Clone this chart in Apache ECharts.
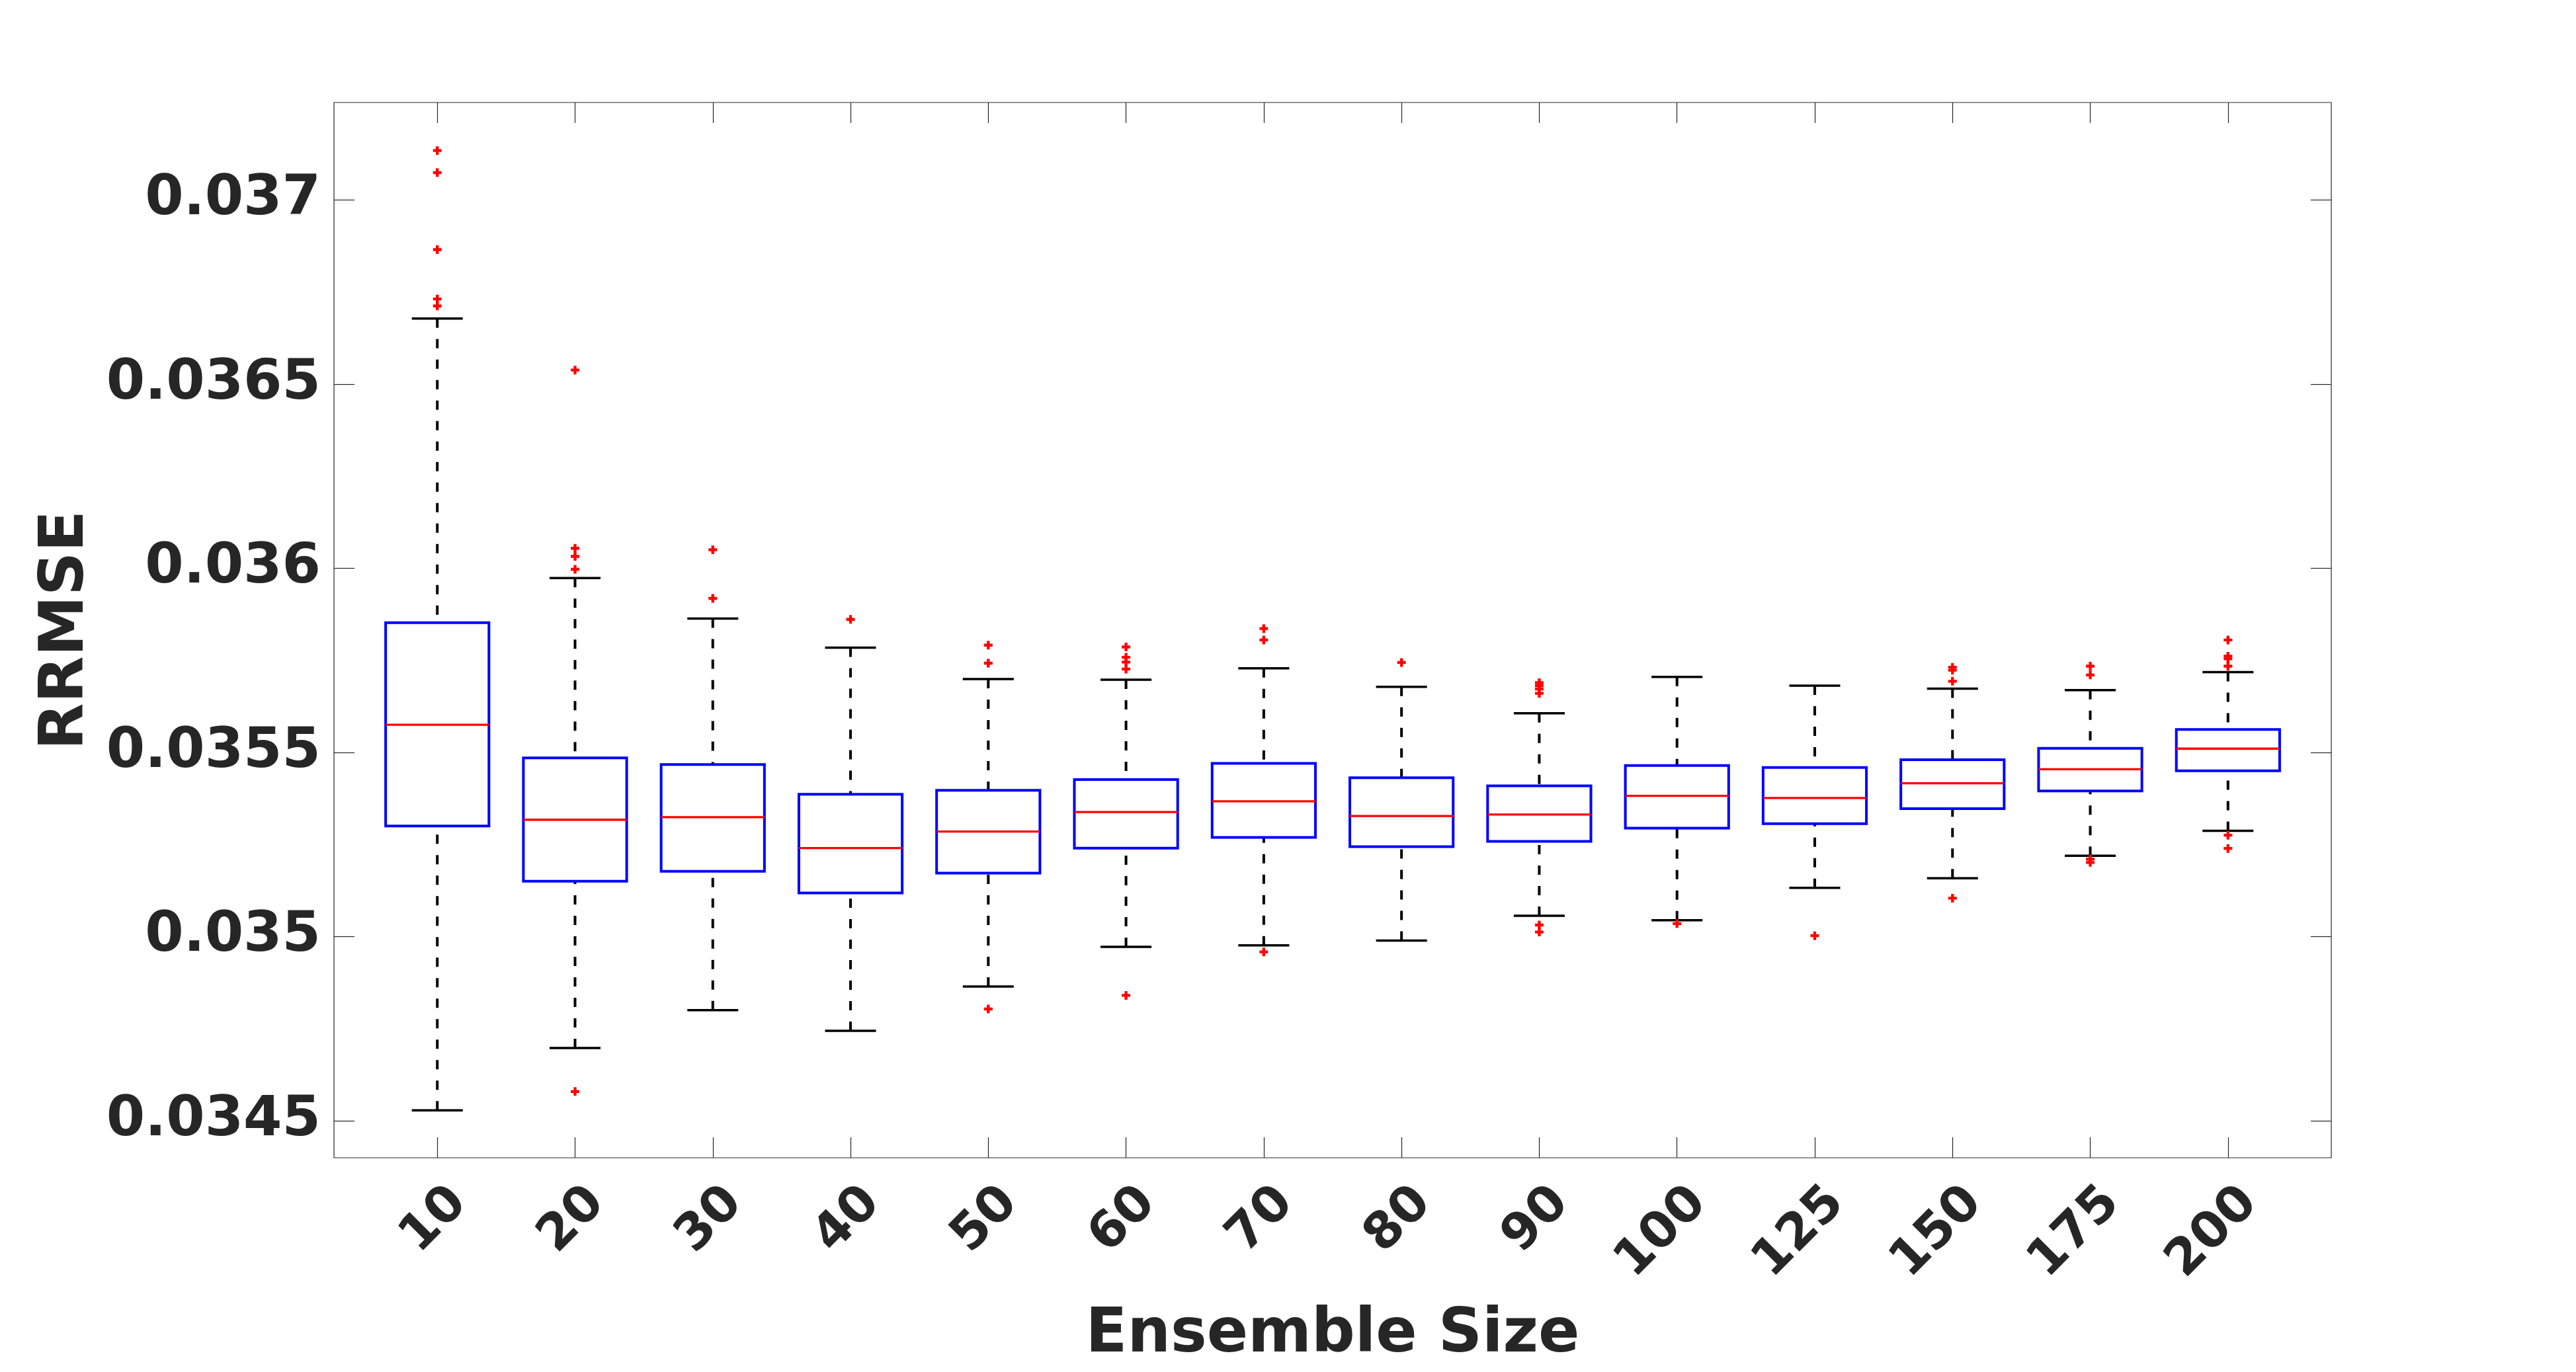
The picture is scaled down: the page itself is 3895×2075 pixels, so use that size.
<!DOCTYPE html>
<html>
<head>
<meta charset="utf-8">
<script src="https://cdn.jsdelivr.net/npm/echarts@6/dist/echarts.min.js"></script>
<style>
  html, body { margin: 0; padding: 0; background: #ffffff; }
  #chart { width: 3895px; height: 2075px; }
</style>
</head>
<body>
<div id="chart"></div>
<script>
// ---- Data ----
const categories = ['10','20','30','40','50','60','70','80','90','100','125','150','175','200'];
const lowerWhisker  = [0.034528,0.034697,0.034800,0.034744,0.034864,0.034972,0.034976,0.034989,0.035056,0.035044,0.035132,0.035158,0.035219,0.035287];
const lowerQuartile = [0.035300,0.035150,0.035177,0.035118,0.035172,0.035240,0.035269,0.035244,0.035258,0.035294,0.035306,0.035347,0.035395,0.035450];
const medians       = [0.035575,0.035317,0.035324,0.035240,0.035285,0.035338,0.035367,0.035327,0.035331,0.035382,0.035376,0.035416,0.035454,0.035510];
const upperQuartile = [0.035852,0.035485,0.035467,0.035386,0.035397,0.035426,0.035470,0.035431,0.035409,0.035464,0.035459,0.035480,0.035511,0.035562];
const upperWhisker  = [0.036678,0.035973,0.035863,0.035784,0.035699,0.035697,0.035728,0.035678,0.035606,0.035705,0.035681,0.035673,0.035669,0.035718];
const outliers = [
  ['10',0.037134],['10',0.037074],['10',0.036865],['10',0.036731],['10',0.036712],
  ['20',0.036538],['20',0.036054],['20',0.036032],['20',0.035997],['20',0.034579],
  ['30',0.036050],['30',0.035918],
  ['40',0.035861],
  ['50',0.035791],['50',0.035742],['50',0.034803],
  ['60',0.035786],['60',0.035758],['60',0.035745],['60',0.035726],['60',0.034840],
  ['70',0.035836],['70',0.035805],['70',0.034958],
  ['80',0.035744],
  ['90',0.035689],['90',0.035681],['90',0.035672],['90',0.035660],['90',0.035031],['90',0.035012],
  ['100',0.035035],
  ['125',0.035002],
  ['150',0.035731],['150',0.035723],['150',0.035693],['150',0.035104],
  ['175',0.035734],['175',0.035710],['175',0.035210],['175',0.035201],
  ['200',0.035805],['200',0.035761],['200',0.035754],['200',0.035734],['200',0.035275],['200',0.035239]
];
const yTickValues = [0.0345, 0.035, 0.0355, 0.036, 0.0365, 0.037];
const yMin = 0.0343991;
const yMax = 0.0372645;

// ---- Layout ----
const TEXT = '#262626';
const FONT = 'DejaVu Sans';
const frameLeft = 505, frameTop = 155, frameWidth = 3020, frameHeight = 1596;
const unit = frameWidth / 14.5;           // x-limits span 0.25 .. 14.75 category units
const inset = unit * 0.25;

const boxData = categories.map((c, i) => [i, lowerWhisker[i], lowerQuartile[i], medians[i], upperQuartile[i], upperWhisker[i]]);

function renderBox(params, api) {
  const i = api.value(0);
  const lo = api.coord([i, api.value(1)]);
  const b1 = api.coord([i, api.value(2)]);
  const md = api.coord([i, api.value(3)]);
  const b3 = api.coord([i, api.value(4)]);
  const hi = api.coord([i, api.value(5)]);
  const band = api.size([1, 0])[0];
  const hw = band * 0.375;
  const cw = band * 0.185;
  const x = lo[0];
  const dashStyle = { stroke: '#000000', lineWidth: 4, lineDash: [14, 17], fill: null };
  const capStyle = { stroke: '#000000', lineWidth: 3.5, fill: null };
  return {
    type: 'group',
    children: [
      { type: 'line', shape: { x1: x, y1: hi[1], x2: x, y2: b3[1] }, style: dashStyle },
      { type: 'line', shape: { x1: x, y1: lo[1], x2: x, y2: b1[1] }, style: dashStyle },
      { type: 'line', shape: { x1: x - cw, y1: hi[1], x2: x + cw, y2: hi[1] }, style: capStyle },
      { type: 'line', shape: { x1: x - cw, y1: lo[1], x2: x + cw, y2: lo[1] }, style: capStyle },
      { type: 'rect', shape: { x: x - hw, y: b3[1], width: 2 * hw, height: b1[1] - b3[1] },
        style: { stroke: '#0000ff', lineWidth: 4, fill: null } },
      { type: 'line', shape: { x1: x - hw, y1: md[1], x2: x + hw, y2: md[1] },
        style: { stroke: '#ff0000', lineWidth: 3.3, fill: null } }
    ]
  };
}

const tickStyle = { color: TEXT, width: 1.2 };

const option = {
  backgroundColor: '#ffffff',
  animation: false,
  grid: [
    { left: frameLeft, top: frameTop, width: frameWidth, height: frameHeight,
      show: true, borderColor: TEXT, borderWidth: 1.2, backgroundColor: 'transparent' },
    { left: frameLeft + inset, top: frameTop, width: frameWidth - 2 * inset, height: frameHeight }
  ],
  xAxis: [
    { gridIndex: 1, type: 'category', data: categories, position: 'bottom',
      axisLine: { show: false },
      axisTick: { show: true, inside: true, length: 31, alignWithLabel: true, lineStyle: tickStyle },
      axisLabel: { show: true, rotate: 45, interval: 0, margin: 24, fontSize: 76, fontWeight: 'bold',
        fontFamily: FONT, color: TEXT, align: 'right', verticalAlign: 'top', lineHeight: 94 },
      splitLine: { show: false },
      name: 'Ensemble Size', nameLocation: 'middle', nameGap: 269, nameMoveOverlap: false,
      nameTextStyle: { fontSize: 92, fontWeight: 'bold', fontFamily: FONT, color: TEXT, verticalAlign: 'middle' }
    },
    { gridIndex: 1, type: 'category', data: categories, position: 'top',
      axisLine: { show: false },
      axisTick: { show: true, inside: true, length: 31, alignWithLabel: true, lineStyle: tickStyle },
      axisLabel: { show: false }, splitLine: { show: false }
    },
    { gridIndex: 0, type: 'value', min: 0, max: 1, show: false }
  ],
  yAxis: [
    { gridIndex: 0, type: 'value', min: yMin, max: yMax, position: 'left',
      axisLine: { show: false },
      axisTick: { show: true, inside: true, length: 31, customValues: yTickValues, lineStyle: tickStyle },
      axisLabel: { show: true, customValues: yTickValues, margin: 20, fontSize: 84, fontWeight: 'bold',
        fontFamily: FONT, color: TEXT, formatter: v => String(+v.toFixed(4)) },
      splitLine: { show: false },
      name: 'RRMSE', nameLocation: 'middle', nameGap: 404, nameMoveOverlap: false,
      nameTextStyle: { fontSize: 92, fontWeight: 'bold', fontFamily: FONT, color: TEXT, verticalAlign: 'middle' }
    },
    { gridIndex: 0, type: 'value', min: yMin, max: yMax, position: 'right',
      axisLine: { show: false },
      axisTick: { show: true, inside: true, length: 31, customValues: yTickValues, lineStyle: tickStyle },
      axisLabel: { show: false }, splitLine: { show: false }
    },
    { gridIndex: 1, type: 'value', min: yMin, max: yMax, show: false }
  ],
  series: [
    { type: 'custom', xAxisIndex: 0, yAxisIndex: 2, data: boxData, renderItem: renderBox,
      encode: { x: 0, y: [1, 2, 3, 4, 5] }, silent: true, clip: false, z: 2 },
    { type: 'scatter', xAxisIndex: 0, yAxisIndex: 2, data: outliers,
      symbol: 'path://M5,0H10V5H15V10H10V15H5V10H0V5H5Z', symbolSize: 13,
      itemStyle: { color: '#ff0000', opacity: 1 }, silent: true, z: 3 }
  ]
};

const chart = echarts.init(document.getElementById('chart'), null, { renderer: 'canvas' });
chart.setOption(option);
</script>
</body>
</html>
